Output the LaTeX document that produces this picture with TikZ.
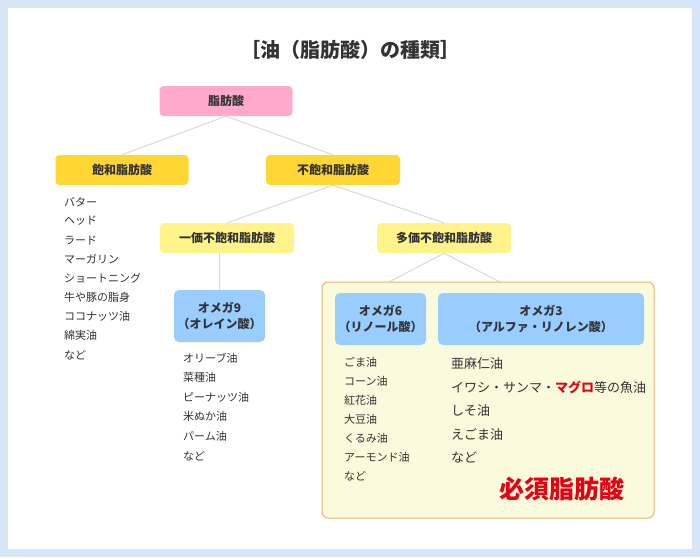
\documentclass[tikz,border=0pt]{standalone}
\usepackage{fontspec}
\setmainfont{Noto Sans CJK JP}
\newfontfamily\cjkb{Noto Sans CJK JP}[FakeBold=1.5]
\definecolor{frame}{HTML}{D6E6F7}
\definecolor{pinkc}{HTML}{FFAACC}
\definecolor{gold}{HTML}{FFD633}
\definecolor{lyel}{HTML}{FFF38A}
\definecolor{lblue}{HTML}{99CCFF}
\definecolor{boxfill}{HTML}{FAFADC}
\definecolor{boxline}{HTML}{F5B26B}
\definecolor{txt}{HTML}{333333}
\definecolor{redc}{HTML}{E60012}
\tikzset{
 box/.style={rounded corners=4pt,minimum height=30pt,inner sep=0pt,font=\fontsize{12}{14}\selectfont\bfseries,text=txt},
 omega/.style={rounded corners=5pt,fill=lblue,minimum height=52pt,inner sep=0pt,align=center,font=\fontsize{12}{16}\selectfont\bfseries,text=txt},
 item/.style={anchor=west,inner sep=0pt,font=\fontsize{11}{13}\selectfont,text=txt},
 itemb/.style={anchor=west,inner sep=0pt,font=\fontsize{13}{15}\selectfont,text=txt},
 link/.style={draw=black!15,line width=1pt}
}
\begin{document}
\begin{tikzpicture}[x=1pt,y=-1pt]
\fill[frame] (0,0) rectangle (700,557);
\fill[white] (8,8) rectangle (692,549);
\node[font=\fontsize{20}{22}\selectfont\bfseries,text=txt] (title) at (350,50) {［油（脂肪酸）の種類］};
\node[box,fill=pinkc,minimum width=133pt] (fa) at (226,101) {脂肪酸};
\node[box,fill=gold,minimum width=133pt] (sat) at (122,170) {飽和脂肪酸};
\node[box,fill=gold,minimum width=134pt] (unsat) at (333,170) {不飽和脂肪酸};
\node[box,fill=lyel,minimum width=134pt] (mono) at (227,238) {一価不飽和脂肪酸};
\node[box,fill=lyel,minimum width=134pt] (poly) at (444,238) {多価不飽和脂肪酸};
\draw[link] (fa.south) -- (sat.north);
\draw[link] (fa.south) -- (unsat.north);
\draw[link] (unsat.south) -- (mono.north);
\draw[link] (unsat.south) -- (poly.north);
\coordinate (pl) at (389,282);
\coordinate (pr) at (500,282);
\draw[link] (poly.south) -- (pl);
\draw[link] (poly.south) -- (pr);
\node[omega,minimum width=91pt] (o9) at (219.5,316) {オメガ9\\（オレイン酸）};
\draw[link] (mono.south -| o9.north) -- (o9.north);
\node[draw=boxline,fill=boxfill,line width=1pt,rounded corners=6pt,minimum width=332pt,minimum height=236pt,inner sep=0pt] (ess) at (488,400) {};
\node[omega,minimum width=91pt] (o6) at (380.5,319) {オメガ6\\（リノール酸）};
\node[omega,minimum width=206pt] (o3) at (541,319) {オメガ3\\（アルファ・リノレン酸）};
\foreach \t [count=\i from 0] in {バター,ヘッド,ラード,マーガリン,ショートニング,牛や豚の脂身,ココナッツ油,綿実油,など}
  \node[item] (s\i) at (64,202+19.1*\i) {\t};
\foreach \t [count=\i from 0] in {オリーブ油,菜種油,ピーナッツ油,米ぬか油,パーム油,など}
  \node[item] (n\i) at (183,358+19.6*\i) {\t};
\foreach \t [count=\i from 0] in {ごま油,コーン油,紅花油,大豆油,くるみ油,アーモンド油,など}
  \node[item] (x\i) at (344,362+19*\i) {\t};
\foreach \t [count=\i from 0] in {亜麻仁油,{イワシ・サンマ・\textcolor{redc}{\bfseries マグロ}等の魚油},しそ油,えごま油,など}
  \node[itemb] (t\i) at (451,364+23.5*\i) {\t};
\node[font=\fontsize{25}{27}\selectfont\bfseries,text=redc] (must) at (562,489) {必須脂肪酸};
\end{tikzpicture}
\end{document}
